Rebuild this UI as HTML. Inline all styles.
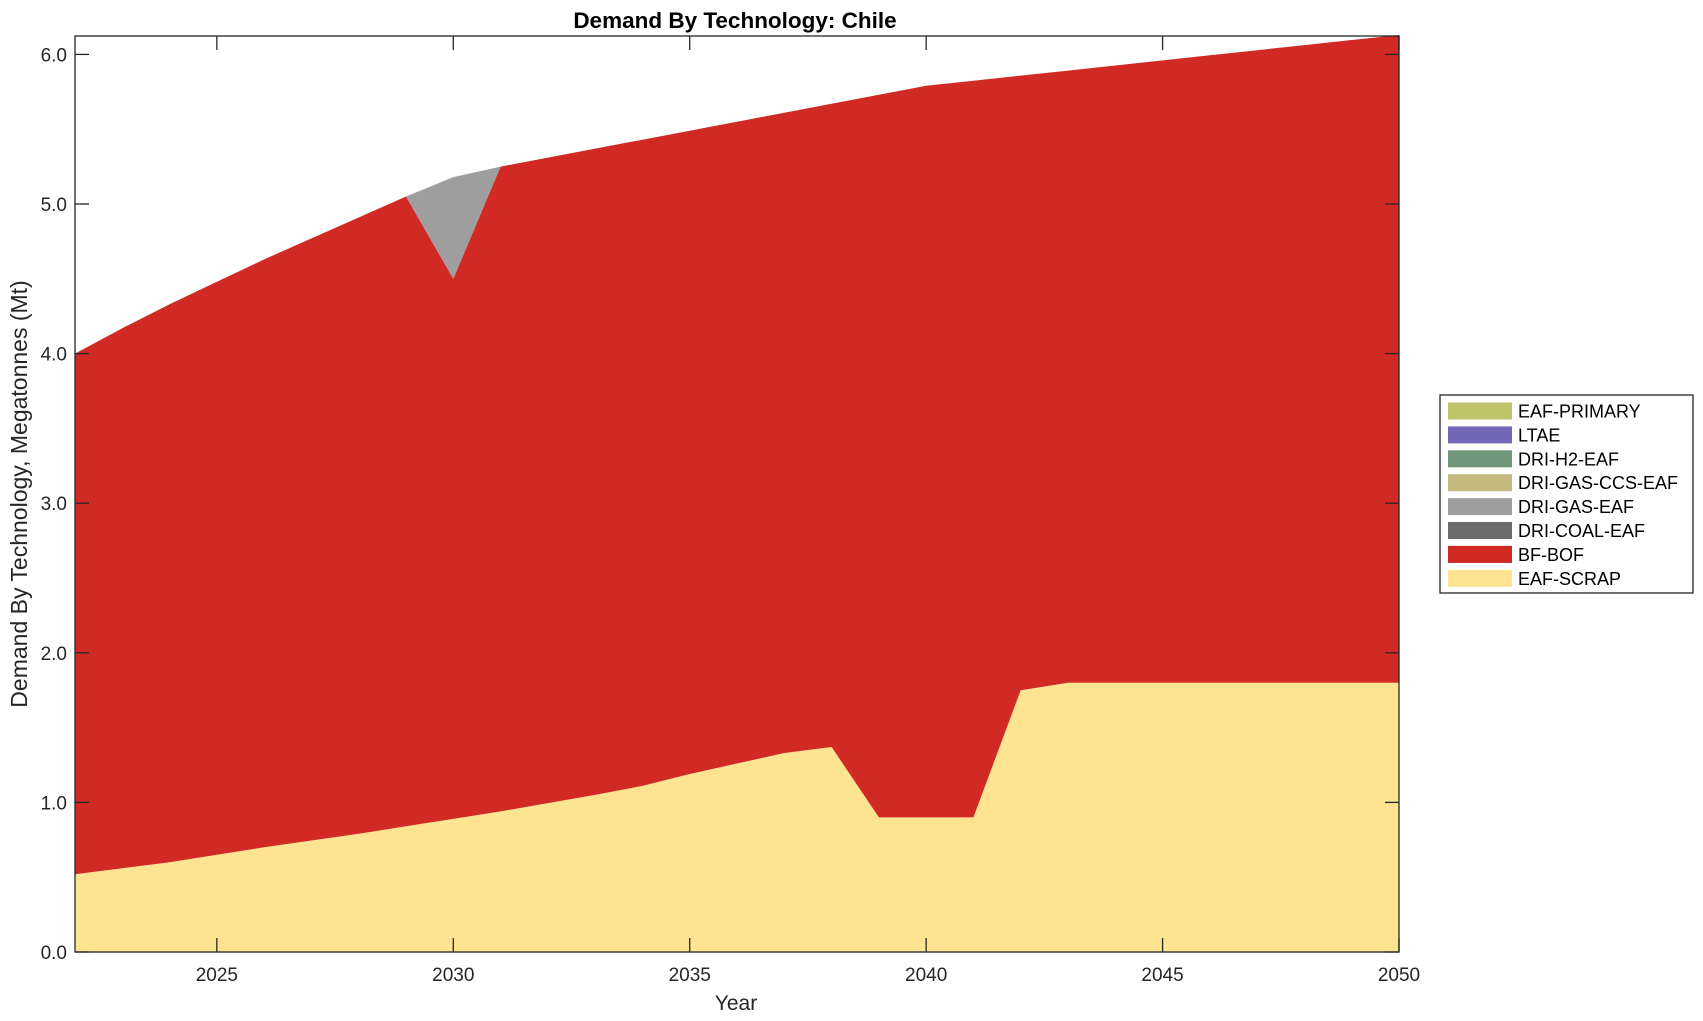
<!DOCTYPE html>
<html><head><meta charset="utf-8"><style>
html,body{margin:0;padding:0;background:#fff;}
svg{display:block;font-family:"Liberation Sans",Arial,sans-serif;}
</style></head><body>
<svg id="s" width="1703" height="1021" viewBox="0 0 1703 1021" xmlns="http://www.w3.org/2000/svg">
<g id="areas"></g>
<rect x="75" y="36" width="1324" height="916" fill="none" stroke="#262626" stroke-width="1.3"/>
<g id="ticks" stroke="#262626" stroke-width="1.3"></g>
<g id="labels" fill="#262626" font-size="19"></g>
<text x="735" y="28" text-anchor="middle" font-size="22.5" font-weight="bold" fill="#000">Demand By Technology: Chile</text>
<text x="736" y="1010" text-anchor="middle" font-size="21" fill="#262626">Year</text>
<text transform="translate(27,494) rotate(-90)" text-anchor="middle" font-size="23" fill="#262626">Demand By Technology, Megatonnes (Mt)</text>
<g id="legend"></g>
</svg>
<script>
const X=y=>75+(y-2022)*1324/28, Y=v=>952-149.6*v;
const tot=[4.0,4.17,4.33,4.48,4.63,4.77,4.91,5.05,5.18,5.25,5.31,5.37,5.43,5.49,5.55,5.61,5.67,5.73,5.79];
for(let i=1;i<=10;i++)tot.push(5.79+0.034*i);
const scr=[.52,.56,.60,.65,.70,.745,.79,.84,.89,.94,.995,1.05,1.11,1.19,1.26,1.33,1.37,.9,.9,.9,1.75,1.8,1.8,1.8,1.8,1.8,1.8,1.8,1.8];
const bf=tot.slice(); bf[8]=4.5;
function band(lo,hi,c){let p='';for(let i=0;i<hi.length;i++)p+=(i?'L':'M')+X(2022+i).toFixed(1)+' '+Y(hi[i]).toFixed(1);
for(let i=lo.length-1;i>=0;i--)p+='L'+X(2022+i).toFixed(1)+' '+Y(lo[i]).toFixed(1);return `<path d="${p}Z" fill="${c}"/>`;}
const zero=tot.map(()=>0);
let a=band(zero,scr,'#fee391')+band(scr,bf,'#d12a25')+band(bf,tot,'#9e9e9e');
document.getElementById('areas').innerHTML=a;
let t='',l='';
for(let v=0;v<=6;v++){const y=Y(v);t+=`<line x1="75" y1="${y}" x2="89" y2="${y}"/><line x1="1385" y1="${y}" x2="1399" y2="${y}"/>`;
l+=`<text x="67" y="${y+7}" text-anchor="end">${v.toFixed(1)}</text>`;}
for(let yr=2025;yr<=2050;yr+=5){const x=X(yr);t+=`<line x1="${x}" y1="952" x2="${x}" y2="938"/><line x1="${x}" y1="36" x2="${x}" y2="50"/>`;
l+=`<text x="${x}" y="981" text-anchor="middle">${yr}</text>`;}
document.getElementById('ticks').innerHTML=t;document.getElementById('labels').innerHTML=l;
const leg=[['EAF-PRIMARY','#bec46a'],['LTAE','#7267b6'],['DRI-H2-EAF','#70967b'],['DRI-GAS-CCS-EAF','#c4b97f'],['DRI-GAS-EAF','#9e9e9e'],['DRI-COAL-EAF','#6c6c6c'],['BF-BOF','#d12a25'],['EAF-SCRAP','#fee391']];
let g='<rect x="1440" y="395" width="253" height="198" fill="#fff" stroke="#262626" stroke-width="1.3"/>';
leg.forEach((e,i)=>{const cy=411+i*23.9;g+=`<rect x="1448" y="${cy-8.5}" width="64" height="17" fill="${e[1]}"/><text x="1518" y="${cy+6.5}" font-size="18" fill="#000">${e[0]}</text>`;});
document.getElementById('legend').innerHTML=g;
</script>
</body></html>
